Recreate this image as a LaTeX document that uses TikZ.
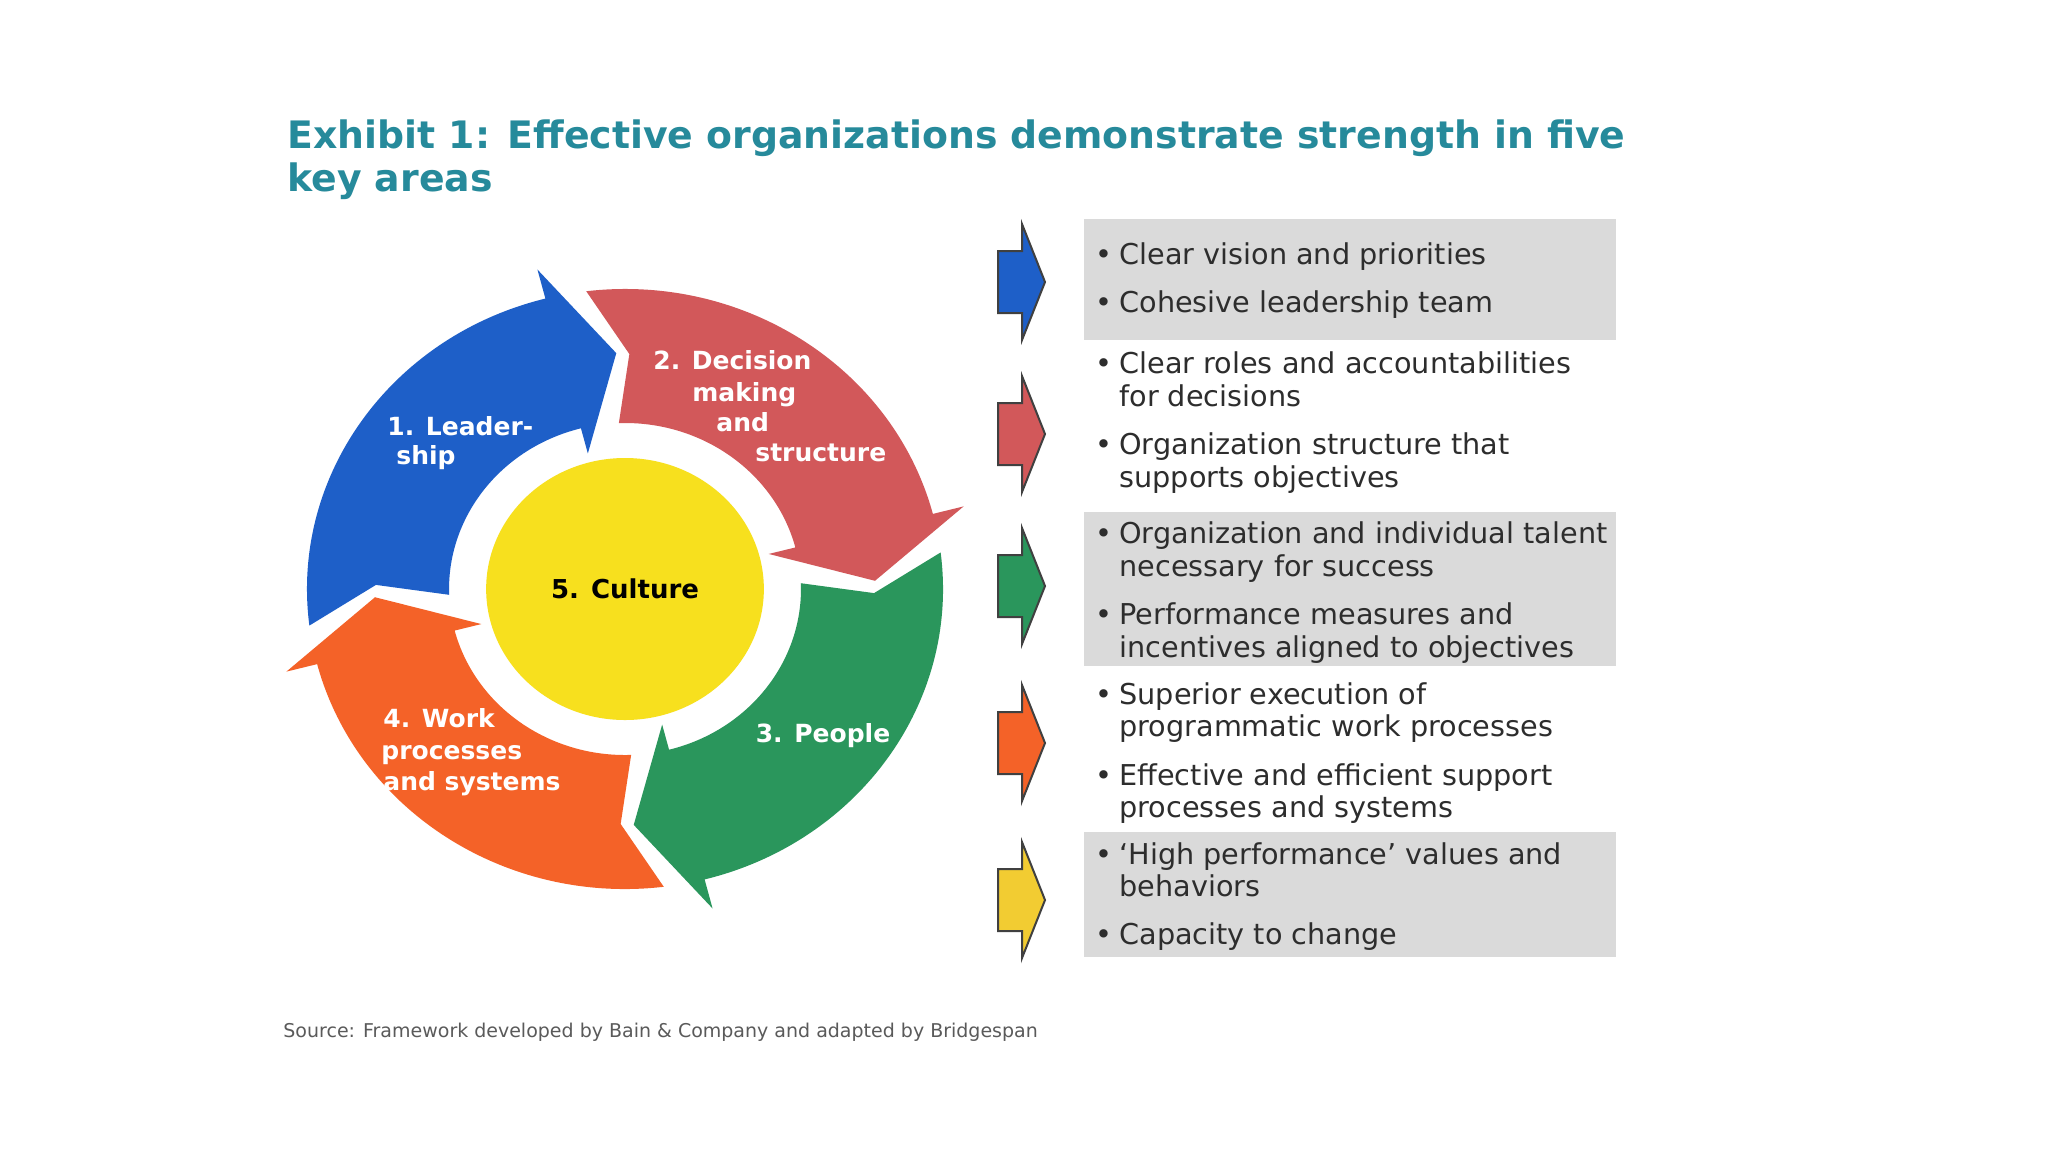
\documentclass[tikz,border=0pt]{standalone}
\usepackage{fontspec}
\setmainfont{DejaVu Sans}
\definecolor{ttl}{RGB}{38,138,155}
\definecolor{cblue}{RGB}{30,95,200}
\definecolor{cred}{RGB}{210,88,90}
\definecolor{cgreen}{RGB}{42,150,92}
\definecolor{corange}{RGB}{244,98,40}
\definecolor{cyellow}{RGB}{247,224,30}
\definecolor{ayellow}{RGB}{242,204,50}
\definecolor{boxgray}{RGB}{218,218,218}
\definecolor{txt}{RGB}{45,45,45}
\definecolor{srcgray}{RGB}{90,90,90}
% ring segment: #1 colour, #2 tail outer angle, #3 notch angle, #4 tail inner angle, #5 head barb angle
\newcommand\ringseg[5]{%
  \fill[#1] (#2:300) arc[start angle=#2, end angle=#5, radius=300]
    -- (#5:330) -- ({#5-12.5}:236) -- (#5:140) -- (#5:166)
    arc[start angle=#5, end angle=#4, radius=166] -- (#3:235) -- cycle;}
% small block arrow: #1 colour, #2 centre y (pixels, downward)
\newcommand\smallarrow[2]{%
  \draw[sarrow, fill=#1] (998,{-(#2-31)}) -- (1022,{-(#2-31)}) -- (1022,{-(#2-58)})
    -- (1045,{-#2}) -- (1022,{-(#2+58)}) -- (1022,{-(#2+31)}) -- (998,{-(#2+31)}) -- cycle;}
\newcommand\bul{\makebox[12pt][l]{•}}
\begin{document}
\begin{tikzpicture}[x=0.5pt,y=0.5pt,
  lbl/.style={text=white, font=\bfseries\fontsize{12.5}{15}\selectfont, anchor=base west, inner sep=0pt},
  bt/.style={text=txt, font=\fontsize{14.35}{16}\selectfont, anchor=base west, inner sep=0pt},
  ttlst/.style={text=ttl, font=\bfseries\fontsize{18.9}{22}\selectfont, anchor=base west, inner sep=0pt},
  src/.style={text=srcgray, font=\fontsize{9.5}{11}\selectfont, anchor=base west, inner sep=0pt},
  sarrow/.style={draw=black!75, line width=1pt, line join=miter},
  gbox/.style={fill=boxgray}]
\useasboundingbox (0,0) rectangle (2048,-1152);
\fill[white] (0,0) rectangle (2048,-1152);

% title
\node[ttlst] (title1) at (287,-148) {Exhibit 1: Effective organizations demonstrate strength in five};
\node[ttlst] (title2) at (287,-191) {key areas};

% cycle
\begin{scope}[shift={(625,-589)}, xscale=1.06]
  \ringseg{cblue}{187}{179}{182}{104.5}
  \ringseg{cred}{97}{89}{92}{14.5}
  \ringseg{cgreen}{7}{-1}{2}{-75.5}
  \ringseg{corange}{-83}{-91}{-88}{-165.5}
  \fill[cyellow] (0,0) circle[radius=131];
  \node[font=\bfseries\fontsize{13}{15}\selectfont, text=black] (culture) at (0,0) {5. Culture};
\end{scope}

\node[lbl] (l1a) at (387,-435) {1. Leader-};
\node[lbl] (l1b) at (396,-464) {ship};
\node[lbl] (l2a) at (653,-369) {2. Decision};
\node[lbl] (l2b) at (692,-401) {making};
\node[lbl] (l2c) at (716,-431) {and};
\node[lbl] (l2d) at (755,-461) {structure};
\node[lbl, anchor=base] (l3) at (823,-742) {3. People};
\node[lbl] (l4a) at (383,-727) {4. Work};
\node[lbl] (l4b) at (381,-759) {processes};
\node[lbl] (l4c) at (383,-790) {and systems};

% grey boxes
\fill[gbox] (1084,-219) rectangle (1616,-340);
\fill[gbox] (1084,-512) rectangle (1616,-666);
\fill[gbox] (1084,-832) rectangle (1616,-957);

% small arrows
\smallarrow{cblue}{282}
\smallarrow{cred}{434}
\smallarrow{cgreen}{586}
\smallarrow{corange}{743}
\smallarrow{ayellow}{900}

% bullet texts
\node[bt] (b1) at (1095,-264) {\bul Clear vision and priorities};
\node[bt] (b2) at (1095,-312) {\bul Cohesive leadership team};
\node[bt] (b3a) at (1095,-373) {\bul Clear roles and accountabilities};
\node[bt] (b3b) at (1119,-406) {for decisions};
\node[bt] (b4a) at (1095,-454) {\bul Organization structure that};
\node[bt] (b4b) at (1119,-487) {supports objectives};
\node[bt] (b5a) at (1095,-543) {\bul Organization and individual talent};
\node[bt] (b5b) at (1119,-576) {necessary for success};
\node[bt] (b6a) at (1095,-624) {\bul Performance measures and};
\node[bt] (b6b) at (1119,-657) {incentives aligned to objectives};
\node[bt] (b7a) at (1095,-704) {\bul Superior execution of};
\node[bt] (b7b) at (1119,-736) {programmatic work processes};
\node[bt] (b8a) at (1095,-785) {\bul Effective and efficient support};
\node[bt] (b8b) at (1119,-817) {processes and systems};
\node[bt] (b9a) at (1095,-864) {\bul `High performance' values and};
\node[bt] (b9b) at (1119,-896) {behaviors};
\node[bt] (b10) at (1095,-944) {\bul Capacity to change};

% source
\node[src] (source) at (283,-1037) {Source: Framework developed by Bain \& Company and adapted by Bridgespan};
\end{tikzpicture}
\end{document}
